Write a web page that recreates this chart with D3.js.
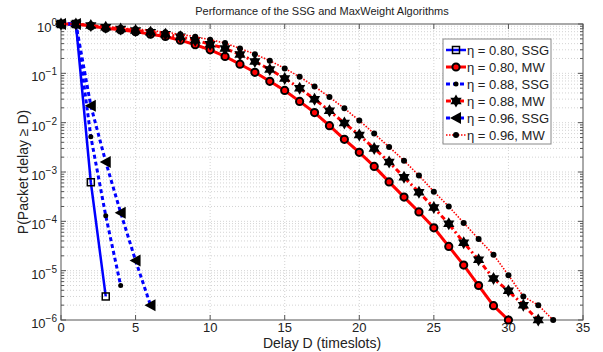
<!DOCTYPE html>
<html>
<head>
<meta charset="utf-8">
<script src="https://cdn.jsdelivr.net/npm/d3@7"></script>
<style>
  body { margin: 0; background: #fff; }
  svg { display: block; }
</style>
</head>
<body>
<script>
// Delay D (timeslots) for each series, and P(Packet delay >= D)
const delaysSSG80 = [0, 1, 2, 3];
const probSSG80   = [1, 1, 6.2e-4, 3.0e-6];
const delaysSSG88 = [0, 1, 2, 3, 4];
const probSSG88   = [1, 1, 5.2e-3, 1.3e-4, 5.0e-6];
const delaysSSG96 = [0, 1, 2, 3, 4, 5, 6];
const probSSG96   = [1, 1, 2.2e-2, 1.6e-3, 1.5e-4, 1.6e-5, 2.0e-6];

const delaysMW80 = d3.range(0, 31);
const probMW80 = [1, 1, 0.91, 0.82, 0.76, 0.70, 0.62, 0.56, 0.47, 0.38,
  0.30, 0.22, 0.153, 0.105, 0.069, 0.045, 0.027, 0.016, 8.7e-3, 4.6e-3,
  2.5e-3, 1.3e-3, 6.3e-4, 3.1e-4, 1.55e-4, 7.4e-5, 3.1e-5, 1.3e-5, 5.0e-6, 1.95e-6,
  1.0e-6];
const delaysMW88 = d3.range(0, 33);
const probMW88 = [1, 1, 0.93, 0.86, 0.79, 0.74, 0.68, 0.62, 0.55, 0.47,
  0.39, 0.32, 0.24, 0.174, 0.12, 0.079, 0.05, 0.030, 0.0174, 9.8e-3,
  5.6e-3, 3.0e-3, 1.6e-3, 7.8e-4, 3.9e-4, 1.9e-4, 8.9e-5, 3.7e-5, 1.66e-5, 6.9e-6,
  3.9e-6, 2.0e-6, 1.0e-6];
const delaysMW96 = d3.range(0, 34);
const probMW96 = [1, 1, 0.95, 0.89, 0.83, 0.79, 0.74, 0.68, 0.62, 0.55,
  0.48, 0.41, 0.32, 0.245, 0.18, 0.126, 0.085, 0.054, 0.033, 0.0195,
  0.011, 6.0e-3, 3.2e-3, 1.7e-3, 8.5e-4, 4.0e-4, 2.0e-4, 9.3e-5, 4.4e-5, 2.1e-5,
  8.1e-6, 3.0e-6, 2.0e-6, 1.0e-6];

const seriesNames = ["η = 0.80, SSG", "η = 0.80, MW", "η = 0.88, SSG",
                     "η = 0.88, MW", "η = 0.96, SSG", "η = 0.96, MW"];
const xTicks = [0, 5, 10, 15, 20, 25, 30, 35];
const yExponents = [0, -1, -2, -3, -4, -5, -6];

// styles per series (same order as seriesNames)
const styles = [
  {color: "#0000ff", width: 2.5, dash: null,      marker: "square"},
  {color: "#ff0000", width: 3,   dash: null,      marker: "circle"},
  {color: "#0000ff", width: 3,   dash: "4,3",     marker: "dot"},
  {color: "#ff0000", width: 3,   dash: "5,3,2,3", marker: "hexagram"},
  {color: "#0000ff", width: 3,   dash: "4,3",     marker: "triangle"},
  {color: "#ff0000", width: 1.6, dash: "1.5,1.5", marker: "bigdot"},
];
const seriesData = [
  [delaysSSG80, probSSG80], [delaysMW80, probMW80], [delaysSSG88, probSSG88],
  [delaysMW88, probMW88], [delaysSSG96, probSSG96], [delaysMW96, probMW96],
].map(([ds, ps]) => ds.map((d, i) => ({d, p: ps[i]})));

const W = 603, H = 352;
const M = {left: 61, right: 20, top: 24, bottom: 32};
const x = d3.scaleLinear().domain([0, 35]).range([M.left, W - M.right]);
const y = d3.scaleLog().domain([1e-6, 1]).range([H - M.bottom, M.top]);
const font = "Arial, 'Liberation Sans', Helvetica, sans-serif";

const svg = d3.select("body").append("svg")
  .attr("width", W).attr("height", H)
  .style("font-family", font);

// ── grid ──
const grid = svg.append("g").attr("stroke", "#c8c8c8").attr("stroke-width", 0.8)
  .attr("stroke-dasharray", "1,2");
xTicks.slice(1, -1).forEach(t => {
  grid.append("line").attr("x1", x(t)).attr("x2", x(t))
    .attr("y1", y.range()[1]).attr("y2", y.range()[0]);
});
const minorY = [];
for (let e = -6; e < 0; e++) for (let k = 1; k <= 9; k++) minorY.push(k * Math.pow(10, e));
minorY.filter(v => v > 1e-6).forEach(v => {
  grid.append("line").attr("x1", x(0)).attr("x2", x(35))
    .attr("y1", y(v)).attr("y2", y(v));
});

// ── frame + ticks ──
const axisCol = "#555";
svg.append("rect").attr("x", x(0)).attr("y", y(1))
  .attr("width", x(35) - x(0)).attr("height", y(1e-6) - y(1))
  .attr("fill", "none").attr("stroke", axisCol).attr("stroke-width", 1);

const ticks = svg.append("g").attr("stroke", axisCol).attr("stroke-width", 1);
xTicks.forEach(t => {
  ticks.append("line").attr("x1", x(t)).attr("x2", x(t)).attr("y1", y(1e-6)).attr("y2", y(1e-6) - 5);
  ticks.append("line").attr("x1", x(t)).attr("x2", x(t)).attr("y1", y(1)).attr("y2", y(1) + 5);
});
minorY.concat([1]).forEach(v => {
  const lg10 = Math.log10(v);
  const len = Math.abs(lg10 - Math.round(lg10)) < 1e-9 ? 5 : 3;
  ticks.append("line").attr("x1", x(0)).attr("x2", x(0) + len).attr("y1", y(v)).attr("y2", y(v));
  ticks.append("line").attr("x1", x(35)).attr("x2", x(35) - len).attr("y1", y(v)).attr("y2", y(v));
});

// x tick labels
svg.append("g").selectAll("text").data(xTicks).join("text")
  .attr("x", d => x(d)).attr("y", y(1e-6) + 12)
  .attr("text-anchor", "middle").attr("font-size", 13).attr("fill", "#222")
  .text(d => d);

// y tick labels 10^e
yExponents.forEach(e => {
  const t = svg.append("text").attr("x", x(0) - 4).attr("y", y(Math.pow(10, e)) + 8)
    .attr("text-anchor", "end").attr("font-size", 13).attr("fill", "#222");
  t.append("tspan").text("10");
  t.append("tspan").attr("dy", -6).attr("font-size", 10)
    .text(e === 0 ? "0" : "−" + Math.abs(e));
});

// titles
svg.append("text").attr("x", 322).attr("y", 15).attr("text-anchor", "middle")
  .attr("font-size", 11).attr("fill", "#222")
  .text("Performance of the SSG and MaxWeight Algorithms");
svg.append("text").attr("x", 322).attr("y", 348).attr("text-anchor", "middle")
  .attr("font-size", 14).attr("fill", "#222").text("Delay D (timeslots)");
svg.append("text").attr("transform", `translate(28,172) rotate(-90)`)
  .attr("text-anchor", "middle").attr("font-size", 14).attr("fill", "#222")
  .text("P(Packet delay ≥ D)");

// ── markers ──
function drawMarker(g, type, cx, cy) {
  if (type === "square") {
    g.append("rect").attr("x", cx - 3.5).attr("y", cy - 3.5).attr("width", 7).attr("height", 7)
      .attr("fill", "none").attr("stroke", "#000").attr("stroke-width", 1.5);
  } else if (type === "circle") {
    g.append("circle").attr("cx", cx).attr("cy", cy).attr("r", 3.6)
      .attr("fill", "#ff0000").attr("stroke", "#000").attr("stroke-width", 2);
  } else if (type === "dot") {
    g.append("circle").attr("cx", cx).attr("cy", cy).attr("r", 2.5).attr("fill", "#000");
  } else if (type === "bigdot") {
    g.append("circle").attr("cx", cx).attr("cy", cy).attr("r", 3).attr("fill", "#000");
  } else if (type === "hexagram") {
    const r = 6.5;
    const tri = a => d3.range(3).map(i => {
      const ang = a + i * 2 * Math.PI / 3;
      return [cx + r * Math.sin(ang), cy - r * Math.cos(ang)];
    });
    [0, Math.PI].forEach(a => g.append("path")
      .attr("d", "M" + tri(a).join("L") + "Z").attr("fill", "#000"));
  } else if (type === "triangle") {
    g.append("path")
      .attr("d", `M${cx - 6},${cy}L${cx + 5},${cy - 6}L${cx + 5},${cy + 6}Z`)
      .attr("fill", "#000");
  }
}

const line = d3.line().x(d => x(d.d)).y(d => y(d.p));
const plot = svg.append("g");
seriesData.forEach((data, i) => {
  const s = styles[i];
  plot.append("path").datum(data).attr("d", line)
    .attr("fill", "none").attr("stroke", s.color).attr("stroke-width", s.width)
    .attr("stroke-dasharray", s.dash);
  const gm = plot.append("g");
  data.forEach(p => drawMarker(gm, s.marker, x(p.d), y(p.p)));
});

// ── legend ──
const lg = svg.append("g");
lg.append("rect").attr("x", 443).attr("y", 39).attr("width", 108).attr("height", 105)
  .attr("fill", "#fff").attr("stroke", "#888").attr("stroke-width", 1);
seriesNames.forEach((name, i) => {
  const s = styles[i];
  const ly = 50 + i * 17;
  lg.append("line").attr("x1", 446).attr("x2", 466).attr("y1", ly).attr("y2", ly)
    .attr("stroke", s.color).attr("stroke-width", s.width).attr("stroke-dasharray", s.dash);
  drawMarker(lg, s.marker, 456, ly);
  lg.append("text").attr("x", 467).attr("y", ly + 5).attr("font-size", 13)
    .attr("fill", "#222").text(name);
});
</script>
</body>
</html>
